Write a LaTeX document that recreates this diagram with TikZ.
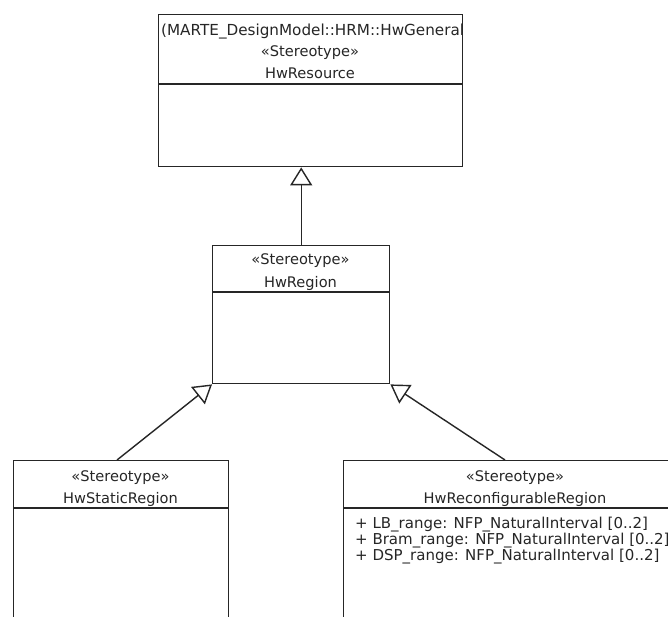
\documentclass[tikz,border=0pt]{standalone}
\usepackage{fontspec}
\setmainfont{DejaVu Sans}
\usetikzlibrary{arrows.meta}
\begin{document}
\begin{tikzpicture}[x=1pt,y=1pt,
  box/.style={draw=black!85, line width=1.4pt, inner sep=0pt, anchor=north west},
  sep/.style={draw=black!85, line width=1.4pt},
  lbl/.style={anchor=base, inner sep=0pt, text=black!85, font=\fontsize{14.6}{17}\selectfont},
  attr/.style={anchor=base west, inner sep=0pt, text=black!85, font=\fontsize{15}{17}\selectfont},
  gen/.style={draw=black!85, line width=1.4pt, -{Triangle[open, length=18pt, width=22pt, line width=1.4pt]}}]
\useasboundingbox (0,0) rectangle (668,-617);
\fill[white] (0,0) rectangle (668,-617);
% HwResource
\node[box, minimum width=304pt, minimum height=152pt] (res) at (158,-14) {};
\draw[sep] ([yshift=-70pt]res.north west) -- ([yshift=-70pt]res.north east);
\begin{scope}
  \clip (res.north west) rectangle ([yshift=-70pt]res.north east);
  \node[attr, font=\fontsize{15.2}{17}\selectfont] (resns) at (161,-36) {(MARTE\_DesignModel::HRM::HwGeneral)};
\end{scope}
\node[lbl] (resst) at (310,-57) {«Stereotype»};
\node[lbl] (resnm) at (310,-79) {HwResource};
% HwRegion
\node[box, minimum width=177pt, minimum height=138pt] (reg) at (212,-245) {};
\draw[sep] ([yshift=-47pt]reg.north west) -- ([yshift=-47pt]reg.north east);
\node[lbl] (regst) at (300.5,-265) {«Stereotype»};
\node[lbl] (regnm) at (300.5,-287) {HwRegion};
% HwStaticRegion
\node[box, minimum width=215pt, minimum height=220pt] (sta) at (13,-460) {};
\draw[sep] ([yshift=-48pt]sta.north west) -- ([yshift=-48pt]sta.north east);
\node[lbl] (stast) at (120.5,-481) {«Stereotype»};
\node[lbl] (stanm) at (120.5,-503) {HwStaticRegion};
% HwReconfigurableRegion
\node[box, minimum width=344pt, minimum height=220pt] (rec) at (343,-460) {};
\draw[sep] ([yshift=-48pt]rec.north west) -- ([yshift=-48pt]rec.north east);
\node[lbl] (recst) at (515,-481) {«Stereotype»};
\node[lbl] (recnm) at (515,-503) {HwReconfigurableRegion};
\node[attr] (a1) at (355,-528) {+ LB\_range: NFP\_NaturalInterval [0..2]};
\node[attr] (a2) at (355,-544) {+ Bram\_range: NFP\_NaturalInterval [0..2]};
\node[attr] (a3) at (355,-560) {+ DSP\_range: NFP\_NaturalInterval [0..2]};
% generalizations
\coordinate (staTop) at (117,-460);
\coordinate (recTop) at (505,-460);
\draw[gen] (reg.north) -- (reg.north |- res.south);
\draw[gen] (staTop) -- (reg.south west);
\draw[gen] (recTop) -- (reg.south east);
\end{tikzpicture}
\end{document}
